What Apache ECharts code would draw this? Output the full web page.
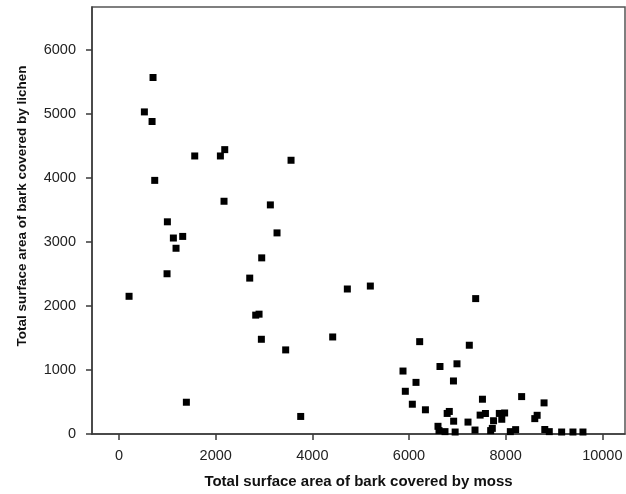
<!DOCTYPE html>
<html>
<head>
<meta charset="utf-8">
<script src="https://cdn.jsdelivr.net/npm/echarts@6/dist/echarts.min.js"></script>
<style>html,body{margin:0;padding:0;background:#fff;}#chart{width:626px;height:494px;}</style>
</head>
<body>
<div id="chart"></div>
<script>
var xTickValues = [0, 2000, 4000, 6000, 8000, 10000];
var yTickValues = [0, 1000, 2000, 3000, 4000, 5000, 6000];
var xTitle = 'Total surface area of bark covered by moss';
var yTitle = 'Total surface area of bark covered by lichen';

var mossArea = [
  703, 524, 683, 1566, 2097, 2187, 3559, 738, 2172, 3131, 1000, 1124, 1317, 1179,
  3269, 2952, 993, 2704, 207, 4724, 5200, 2828, 2897, 2945, 4421, 3448, 1393, 3759,
  7380, 6221, 7248, 5876, 6641, 6993, 6145, 6920, 5924, 6069, 6340, 8331, 8795, 7520,
  6790, 6834, 6924, 7221, 7472, 7582, 7750, 7869, 7979, 7920, 8603, 8652, 6600, 6621,
  6745, 6955, 7366, 7690, 7724, 8097, 8207, 8810, 8903, 9159, 9393, 9600
];
var lichenArea = [
  5566, 5029, 4879, 4341, 4341, 4440, 4274, 3960, 3634, 3577, 3313, 3060, 3085, 2900,
  3140, 2750, 2502, 2434, 2150, 2264, 2310, 1856, 1871, 1479, 1515, 1313, 496, 274,
  2114, 1442, 1386, 983, 1054, 1096, 806, 828, 667, 465, 378, 584, 486, 543,
  321, 352, 200, 186, 295, 320, 207, 321, 328, 230, 240, 292, 120, 53,
  37, 31, 62, 53, 88, 37, 68, 70, 37, 31, 31, 31
];

var points = mossArea.map(function (m, i) { return [m, lichenArea[i]]; });

var chart = echarts.init(document.getElementById('chart'), null, {renderer: 'canvas'});
var font = '"Liberation Sans", Arial, sans-serif';
var axisColor = '#3a3a3a';
function plain(v) { return String(v); }
chart.setOption({
  animation: false,
  backgroundColor: '#fff',
  grid: {left: 92, right: 1, top: 7, bottom: 57.5, show: true, borderColor: '#555', borderWidth: 1.5, containLabel: false},
  xAxis: {
    type: 'value', min: -560, max: 10470,
    splitLine: {show: false},
    axisLine: {show: true, onZero: false, lineStyle: {color: axisColor, width: 1.5}},
    axisTick: {show: true, length: 6, customValues: xTickValues, lineStyle: {color: axisColor, width: 1.5}},
    axisLabel: {customValues: xTickValues, formatter: plain, margin: 14, color: '#222', fontSize: 14.5, fontFamily: font},
    name: xTitle, nameLocation: 'middle', nameGap: 40,
    nameTextStyle: {fontWeight: 'bold', fontSize: 15, color: '#111', fontFamily: font}
  },
  yAxis: {
    type: 'value', min: 0, max: 6667,
    splitLine: {show: false},
    axisLine: {show: true, onZero: false, lineStyle: {color: axisColor, width: 1.5}},
    axisTick: {show: true, length: 6, customValues: yTickValues, lineStyle: {color: axisColor, width: 1.5}},
    axisLabel: {customValues: yTickValues, formatter: plain, margin: 16, color: '#222', fontSize: 14.5, fontFamily: font}
  },
  graphic: [{
    type: 'text', x: 22, y: 206, rotation: Math.PI / 2,
    style: {text: yTitle, fill: '#111', font: 'bold 13.5px ' + font, align: 'center', verticalAlign: 'middle'}
  }],
  series: [{
    type: 'scatter', data: points, symbol: 'rect', symbolSize: 7,
    itemStyle: {color: '#000', opacity: 1}, clip: false
  }]
});
</script>
</body>
</html>
